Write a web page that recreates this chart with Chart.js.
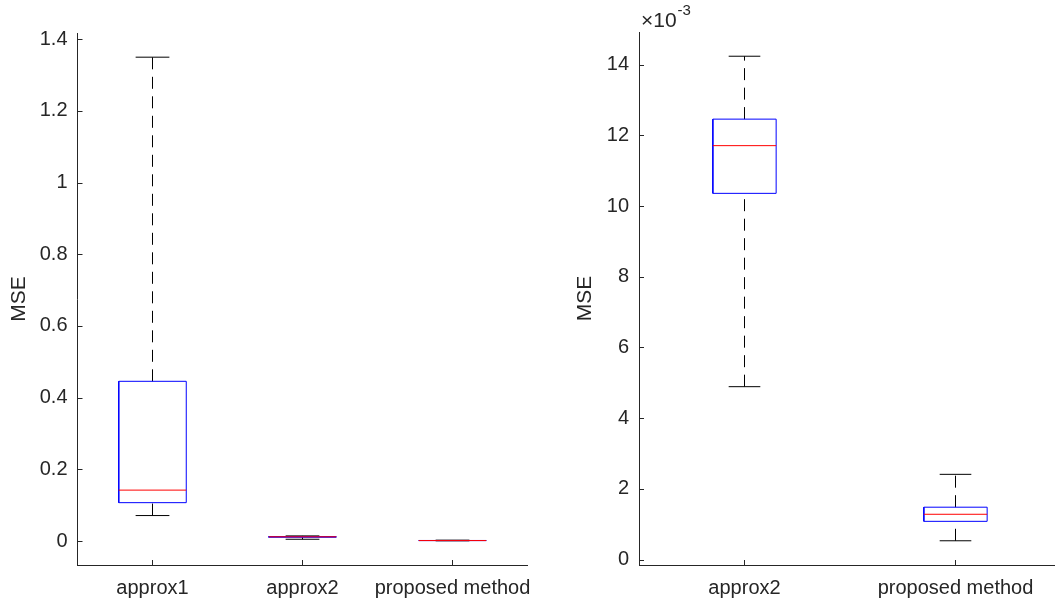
<!DOCTYPE html>
<html>
<head>
<meta charset="utf-8">
<script src="https://cdn.jsdelivr.net/npm/chart.js@4.4.1/dist/chart.umd.min.js"></script>
<style>
  html, body { margin: 0; padding: 0; background: #fff; overflow: hidden; }
  .panel { position: absolute; top: 0; height: 603px; }
  #leftBox { left: 0; width: 560px; }
  #rightBox { left: 560px; width: 501px; }
</style>
</head>
<body>
<div class="panel" id="leftBox"><canvas id="leftChart"></canvas></div>
<div class="panel" id="rightBox"><canvas id="rightChart"></canvas></div>
<script>
// left panel: all three methods
const leftCategories = ['approx1', 'approx2', 'proposed method'];
const leftMin    = [0.0710, 0.00489, 0.00053];
const leftQ1     = [0.1070, 0.01036, 0.00108];
const leftMedian = [0.1420, 0.01171, 0.00128];
const leftQ3     = [0.4456, 0.01246, 0.00148];
const leftMax    = [1.3500, 0.01424, 0.00241];
const leftTicks  = [0, 0.2, 0.4, 0.6, 0.8, 1, 1.2, 1.4];

// right panel: zoom on approx2 / proposed, shown as x10^-3
const rightCategories = ['approx2', 'proposed method'];
const rightMin    = [0.00489, 0.00053];
const rightQ1     = [0.01036, 0.00108];
const rightMedian = [0.01171, 0.00128];
const rightQ3     = [0.01246, 0.00148];
const rightMax    = [0.01424, 0.00241];
const rightTicks  = [0, 2, 4, 6, 8, 10, 12, 14];
const rightExponent = -3;

const axisColor = '#262626';
const fontFamily = '"Liberation Sans", Arial, Helvetica, sans-serif';

function seg(points, color, order, dash) {
  return {
    data: points,
    showLine: true,
    borderColor: color,
    borderWidth: 1,
    borderDash: dash || [],
    pointRadius: 0,
    fill: false,
    order: order
  };
}

function boxDatasets(mins, q1s, meds, q3s, maxs, factor, width) {
  const sets = [];
  for (let i = 0; i < mins.length; i++) {
    const x = i + 1, h = width / 2, c = width / 4;
    const lo = mins[i] * factor, q1 = q1s[i] * factor, md = meds[i] * factor;
    const q3 = q3s[i] * factor, hi = maxs[i] * factor;
    sets.push(seg([{x: x, y: q3}, {x: x, y: hi}], '#000', 3, [12, 7.5]));
    sets.push(seg([{x: x, y: lo}, {x: x, y: q1}], '#000', 3, [12, 7.5]));
    sets.push(seg([{x: x - c, y: hi}, {x: x + c, y: hi}], '#000', 2));
    sets.push(seg([{x: x - c, y: lo}, {x: x + c, y: lo}], '#000', 2));
    sets.push(seg([{x: x - h, y: q1}, {x: x + h, y: q1}, {x: x + h, y: q3},
                   {x: x - h, y: q3}, {x: x - h, y: q1}], '#0000ff', 1));
    sets.push(seg([{x: x - h, y: md}, {x: x + h, y: md}], '#ff0000', 0));
  }
  return sets;
}

const innerTicks = {
  id: 'innerTicks',
  beforeDatasetsDraw(chart) {
    const {ctx, chartArea, scales} = chart;
    ctx.save();
    ctx.strokeStyle = axisColor;
    ctx.lineWidth = 1;
    scales.y.ticks.forEach(t => {
      const y = Math.round(scales.y.getPixelForValue(t.value)) + 0.5;
      ctx.beginPath();
      ctx.moveTo(chartArea.left, y);
      ctx.lineTo(chartArea.left + 5, y);
      ctx.stroke();
    });
    scales.x.ticks.forEach(t => {
      const x = Math.floor(scales.x.getPixelForValue(t.value)) + 0.5;
      ctx.beginPath();
      ctx.moveTo(x, chartArea.bottom);
      ctx.lineTo(x, chartArea.bottom - 5);
      ctx.stroke();
    });
    ctx.restore();
  }
};

const exponentLabel = {
  id: 'exponentLabel',
  afterDraw(chart, args, opts) {
    if (!opts.exp) return;
    const {ctx, chartArea} = chart;
    ctx.save();
    ctx.fillStyle = axisColor;
    ctx.textAlign = 'left';
    ctx.textBaseline = 'alphabetic';
    ctx.font = '21px ' + fontFamily;
    const base = '\u00d710';
    ctx.fillText(base, chartArea.left + 2, 27);
    const w = ctx.measureText(base).width;
    ctx.font = '15px ' + fontFamily;
    ctx.fillText(String(opts.exp), chartArea.left + 3 + w, 15);
    ctx.restore();
  }
};

function makeChart(canvasId, cats, mins, q1s, meds, q3s, maxs, ticks, exp, opt) {
  const factor = Math.pow(10, -exp);
  const lo = Math.min(...mins) * factor, hi = Math.max(...maxs) * factor;
  const pad = 0.05 * (hi - lo);
  return new Chart(document.getElementById(canvasId), {
    type: 'scatter',
    data: { datasets: boxDatasets(mins, q1s, meds, q3s, maxs, factor, opt.boxWidth) },
    plugins: [innerTicks, exponentLabel],
    options: {
      responsive: true,
      maintainAspectRatio: false,
      animation: false,
      events: [],
      layout: { padding: { left: opt.left, top: opt.top, right: opt.right, bottom: 0 } },
      plugins: {
        legend: { display: false },
        tooltip: { enabled: false },
        exponentLabel: { exp: exp }
      },
      scales: {
        x: {
          type: 'linear',
          min: 0.5,
          max: cats.length + 0.5,
          afterBuildTicks: s => { s.ticks = cats.map((c, i) => ({ value: i + 1 })); },
          afterFit: s => { s.height = 38; },
          grid: { display: false, drawTicks: false, tickLength: 0 },
          border: { display: true, color: axisColor, width: 1 },
          ticks: {
            autoSkip: false,
            maxRotation: 0,
            padding: 11,
            color: axisColor,
            font: { family: fontFamily, size: 20 },
            callback: v => cats[Math.round(v) - 1]
          }
        },
        y: {
          type: 'linear',
          min: lo - pad,
          max: hi + pad,
          afterBuildTicks: s => { s.ticks = ticks.map(v => ({ value: v })); },
          afterFit: s => { s.width = opt.yWidth; },
          grid: { display: false, drawTicks: false, tickLength: 0 },
          border: { display: true, color: axisColor, width: 1 },
          ticks: {
            padding: 10,
            color: axisColor,
            font: { family: fontFamily, size: 20 },
            callback: v => String(+v.toFixed(2))
          },
          title: {
            display: true,
            text: 'MSE',
            color: axisColor,
            font: { family: fontFamily, size: 21 },
            padding: { top: opt.titlePad, bottom: 0 }
          }
        }
      }
    }
  });
}

makeChart('leftChart', leftCategories, leftMin, leftQ1, leftMedian, leftQ3, leftMax,
  leftTicks, 0, { boxWidth: 0.45, left: 0.5, top: 33, right: 32.5, yWidth: 77, titlePad: 6 });
makeChart('rightChart', rightCategories, rightMin, rightQ1, rightMedian, rightQ3, rightMax,
  rightTicks, rightExponent, { boxWidth: 0.3, left: 0, top: 32, right: 0, yWidth: 79, titlePad: 13 });
</script>
</body>
</html>
